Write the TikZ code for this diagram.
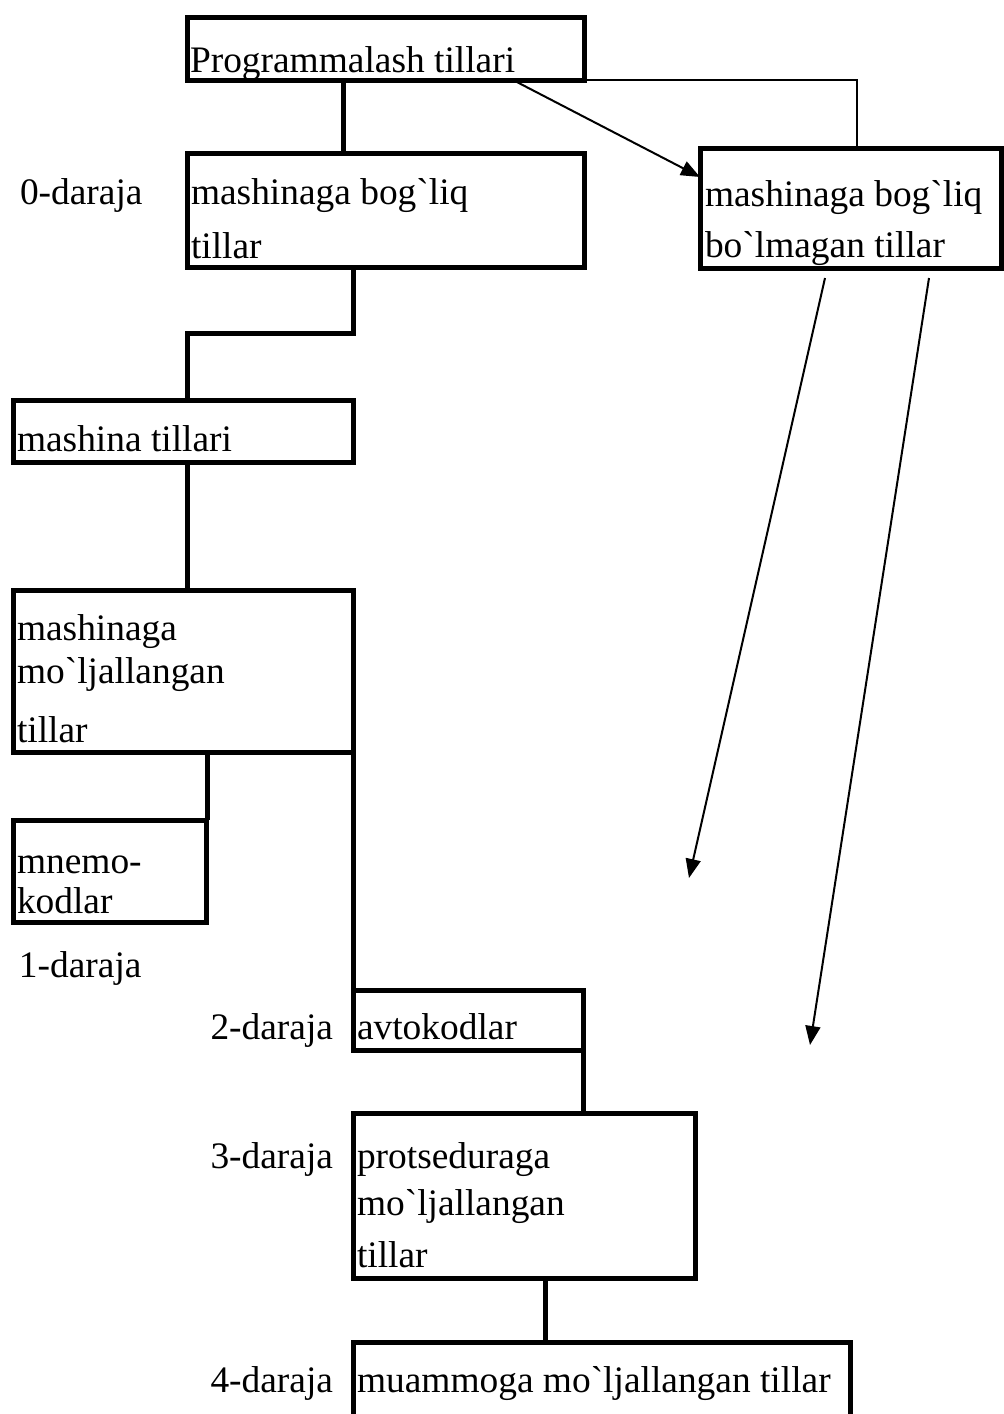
\documentclass[tikz,border=0pt]{standalone}
\usepackage{fontspec}
\setmainfont{Liberation Serif}[Ligatures=TeXOff]
\usetikzlibrary{arrows.meta}
\begin{document}
\begin{tikzpicture}[x=1pt,y=-1pt,
  box/.style={draw, line width=5pt, rectangle, inner sep=0pt, outer sep=0pt, anchor=north west},
  txt/.style={anchor=base west, inner sep=0pt, outer sep=0pt, font=\fontsize{37.4}{44}\selectfont},
  lvl/.style={txt, anchor=base east},
  heavy link/.style={line width=5pt},
  light link/.style={line width=2pt},
  arrow link/.style={line width=2pt, -{Triangle[length=19pt,width=15pt]}}]
\useasboundingbox (0,0) rectangle (1004,1414);
\clip (0,0) rectangle (1004,1414);

% boxes
\node[box, minimum width=397pt, minimum height=63pt]  (b1) at (187,17)   {};
\node[box, minimum width=397pt, minimum height=114pt] (b2) at (187,153)  {};
\node[box, minimum width=301pt, minimum height=120pt] (b3) at (700,148)  {};
\node[box, minimum width=340pt, minimum height=62pt]  (b4) at (13,400)   {};
\node[box, minimum width=340pt, minimum height=162pt] (b5) at (13,590)   {};
\node[box, minimum width=193pt, minimum height=102pt] (b6) at (13,820)   {};
\node[box, minimum width=230pt, minimum height=60pt]  (b7) at (353,990)  {};
\node[box, minimum width=342pt, minimum height=165pt] (b8) at (353,1113) {};
\node[box, minimum width=497pt, minimum height=110pt] (b9) at (353,1342) {};

% box texts
\node[txt] (t1)  at (190,72)   {Programmalash tillari};
\node[txt] (t2a) at (191,204)  {mashinaga bog`liq};
\node[txt] (t2b) at (191,258)  {tillar};
\node[txt] (t3a) at (705,206)  {mashinaga bog`liq};
\node[txt] (t3b) at (705,257)  {bo`lmagan tillar};
\node[txt] (t4)  at (17,451)   {mashina tillari};
\node[txt] (t5a) at (17,640)   {mashinaga};
\node[txt] (t5b) at (17,683)   {mo`ljallangan};
\node[txt] (t5c) at (17,742)   {tillar};
\node[txt] (t6a) at (17,873)   {mnemo-};
\node[txt] (t6b) at (17,913)   {kodlar};
\node[txt] (t7)  at (357,1039) {avtokodlar};
\node[txt] (t8a) at (357,1168) {protseduraga};
\node[txt] (t8b) at (357,1215) {mo`ljallangan};
\node[txt] (t8c) at (357,1267) {tillar};
\node[txt] (t9)  at (357,1392) {muammoga mo`ljallangan tillar};

% level labels
\node[txt] (l0) at (20,204)   {0-daraja};
\node[txt] (l1) at (19,977)   {1-daraja};
\node[lvl] (l2) at (333,1039) {2-daraja};
\node[lvl] (l3) at (333,1168) {3-daraja};
\node[lvl] (l4) at (333,1392) {4-daraja};

% tree connectors
\draw[heavy link] ([xshift=156pt]b1.south west) -- ([xshift=156pt]b2.north west);
\draw[heavy link] ([xshift=166pt]b2.south west) -- ++(0,66) -| ([xshift=174pt]b4.north west);
\draw[heavy link] ([xshift=174pt]b4.south west) -- ([xshift=174pt]b5.north west);
\draw[heavy link] ([xshift=194pt]b5.south west) -- ([xshift=194pt]b6.north west);
\draw[heavy link] (b5.south east) -- (b7.north west);
\draw[heavy link] (b7.south east) -- ([xshift=230pt]b8.north west);
\draw[heavy link] ([xshift=192pt]b8.south west) -- ([xshift=192pt]b9.north west);

% links to the machine-independent branch
\draw[light link] (b1.south east) -| ([xshift=157pt]b3.north west);
\draw[arrow link] ([xshift=326pt]b1.south west) -- ([yshift=-29pt]b3.north west);

% free arrows below the machine-independent box
\coordinate (a1s) at (825,278);
\coordinate (a1e) at (689,878);
\coordinate (a2s) at (929,278);
\coordinate (a2e) at (810,1045);
\draw[arrow link] (a1s) -- (a1e);
\draw[arrow link] (a2s) -- (a2e);
\end{tikzpicture}
\end{document}
